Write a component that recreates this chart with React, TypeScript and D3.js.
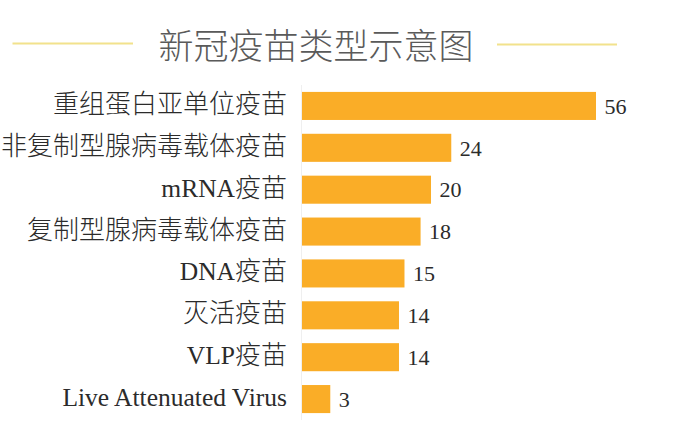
import React from "react";
import * as d3 from "d3";

const title = "新冠疫苗类型示意图";
const categories = [
  "重组蛋白亚单位疫苗",
  "非复制型腺病毒载体疫苗",
  "mRNA疫苗",
  "复制型腺病毒载体疫苗",
  "DNA疫苗",
  "灭活疫苗",
  "VLP疫苗",
  "Live Attenuated Virus",
];
const values = [56, 24, 20, 18, 15, 14, 14, 3];

const W = 690;
const H = 423;
const BAR = "#FAAD27";
const FONT = "'Liberation Serif', 'Noto Sans CJK SC', serif";

function runs(s: string) {
  return s.split(/([\u4e00-\u9fff]+)/).filter((t) => t.length > 0);
}

export default function App() {
  const x = d3.scalePow().exponent(0.8).domain([0, 56]).range([302, 596]);
  const y = d3
    .scaleBand<string>()
    .domain(categories)
    .range([85, 420])
    .paddingInner(0.33)
    .paddingOuter(0.165);
  const bw = y.bandwidth();

  return (
    <svg
      width={W}
      height={H}
      style={{ position: "absolute", left: 0, top: 0, background: "#fff" }}
      fontFamily={FONT}
    >
      <rect x={0} y={0} width={W} height={H} fill="#fff" />
      <line x1={12.5} x2={133} y1={43.5} y2={43.5} stroke="#F2E28C" strokeWidth={2.2} />
      <line x1={497} x2={617} y1={44.5} y2={44.5} stroke="#F2E28C" strokeWidth={2.2} />
      <text
        x={316}
        y={59}
        textAnchor="middle"
        fontSize={35}
        fill="#5a5a5a"
        fontFamily="'Noto Sans CJK SC', sans-serif"
        style={{ fontWeight: 300 }}
      >
        {title}
      </text>
      <line x1={301.5} x2={301.5} y1={85} y2={420} stroke="#efefef" strokeWidth={1} />
      {categories.map((c, i) => {
        const yc = (y(c) as number) + bw / 2;
        return (
          <g key={c}>
            <rect
              x={x(0)}
              y={y(c)}
              width={x(values[i]) - x(0)}
              height={bw}
              fill={BAR}
            />
            <text x={287} y={yc + 7} textAnchor="end" fontSize={25.5} fill="#2b2b2b">
              {runs(c).map((r, k) =>
                /[\u4e00-\u9fff]/.test(r) ? (
                  <tspan
                    key={k}
                    fontSize={26}
                    fontFamily="'Noto Sans CJK SC', sans-serif"
                    style={{ fontWeight: 300 }}
                  >
                    {r}
                  </tspan>
                ) : (
                  <tspan key={k}>{r}</tspan>
                )
              )}
            </text>
            <text x={x(values[i]) + 8.5} y={yc + 7.7} fontSize={22} fill="#2b2b2b">
              {values[i]}
            </text>
          </g>
        );
      })}
    </svg>
  );
}
